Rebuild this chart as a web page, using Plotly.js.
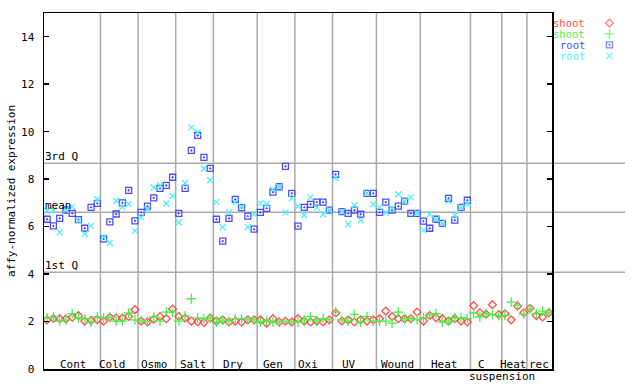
<!DOCTYPE html>
<html>
<head>
<meta charset="utf-8">
<script src="https://cdn.plot.ly/plotly-3.0.1.min.js"></script>
<style>html,body{margin:0;padding:0;background:#fff;}#chart{width:640px;height:384px;}</style>
</head>
<body>
<div id="chart"></div>
<script>
// ---- data ----
const shootRed = [2.07,2.13,2.12,2.11,2.18,2.25,2.02,2.05,2.08,
  2.01,2.18,2.15,2.15,2.21,2.50,
  2.02,1.98,2.10,2.21,2.12,2.53,
  2.21,2.15,2.02,1.99,1.96,2.15,
  2.02,2.07,1.98,2.02,1.98,2.07,2.07,
  2.07,1.93,2.12,1.98,2.02,1.98,
  2.12,2.02,1.98,2.02,1.98,2.07,
  2.36,2.02,2.07,1.98,2.07,2.02,2.07,
  2.12,2.44,2.21,2.12,2.12,2.12,2.40,
  2.02,2.25,2.16,2.12,2.02,2.12,2.02,1.98,
  2.67,2.37,2.31,2.71,2.30,
  2.33,2.07,2.65,2.37,
  2.56,2.25,2.19,2.37];
const shootGreen = [2.15,2.17,2.02,2.07,2.33,2.15,2.11,1.98,2.21,
  2.15,2.18,2.02,2.02,2.36,2.07,
  2.03,2.00,2.19,2.02,2.40,2.40,
  2.02,2.24,2.96,2.15,2.11,2.15,
  1.98,2.06,2.02,2.12,2.12,2.07,2.07,
  1.98,2.02,1.98,1.98,2.02,1.98,
  1.98,2.07,2.21,2.02,2.12,2.07,
  2.40,2.07,2.02,2.30,1.98,2.21,2.02,
  2.02,2.02,1.93,2.40,2.12,2.12,2.07,
  2.16,2.27,2.33,1.98,2.02,2.16,2.16,2.12,
  2.36,2.19,2.33,2.29,2.25,
  2.25,2.82,2.68,2.31,
  2.53,2.33,2.44,2.37];
const rootBlue = [6.31,6.03,6.35,6.70,6.56,6.29,5.93,6.81,6.98,
  5.48,6.20,6.53,7.00,7.53,6.24,
  6.60,6.86,7.21,7.61,7.74,8.08,
  6.56,7.61,9.21,9.84,8.92,8.45,
  6.31,5.39,6.35,7.15,6.80,6.44,5.89,
  6.60,6.77,7.45,7.68,8.54,7.40,
  6.02,6.81,6.94,7.03,7.03,6.69,
  8.20,6.63,6.56,6.69,6.52,7.40,7.40,
  6.60,7.03,6.69,6.86,7.07,6.56,6.56,
  6.23,5.93,6.31,6.14,7.19,6.27,6.81,7.11];
const rootCyan = [6.67,6.70,5.76,6.70,6.84,6.24,5.69,6.03,7.15,
  5.55,5.31,7.09,6.83,6.95,5.82,
  6.39,6.74,7.65,7.75,6.97,7.29,
  6.18,7.84,10.18,9.97,8.45,7.95,
  7.03,5.97,6.60,7.03,6.84,5.97,6.52,
  6.98,6.94,7.57,7.68,6.60,7.19,
  6.86,6.48,7.23,6.81,6.52,6.69,
  8.05,6.63,6.10,6.90,6.27,7.40,6.94,
  6.81,6.60,6.76,7.36,7.07,7.23,6.56,
  5.85,6.52,6.31,6.14,7.07,6.48,6.81,6.94];

const groupNames = ["Cont","Cold","Osmo","Salt","Dry","Gen","Oxi","UV","Wound","Heat","C","Heat","rec"];
const groupSizes = [9,6,6,6,7,6,6,7,7,8,5,4,4];
const groupLabelPos = [4.24,10.5,17.04,23.26,29.7,36.0,41.6,48.1,55.86,63.4,69.3,74.3,78.4];
const subLabel = "suspension";
const subLabelPos = 72.47;

const quartileNames = ["3rd Q","mean","1st Q"];
const quartileValues = [8.67,6.60,4.075];

const seriesNames = ["shoot","shoot","root","root"];
const seriesColors = ["#ff4c4c","#4cf04c","#4c4cff","#4cf0ff"];
const seriesSymbols = ["diamond-open","cross-thin-open","square-open-dot","x-thin-open"];
const seriesSizes = [6,7,6,6];
const seriesData = [shootRed, shootGreen, rootBlue, rootCyan];

const yTicks = [0,2,4,6,8,10,12,14];

// ---- build ----
const FONT = "DejaVu Sans Mono";
const nSamples = groupSizes.reduce((a,b)=>a+b,0);
const traces = seriesData.map((vals,k)=>({
  type:"scatter", mode:"markers",
  x: vals.map((_,i)=>i), y: vals,
  xaxis:"x", yaxis:"y",
  marker:{symbol:seriesSymbols[k], size:seriesSizes[k], color:seriesColors[k],
          line:{width:1.3, color:seriesColors[k]}},
  showlegend:false, hoverinfo:"skip"
}));
// legend keys
traces.push({
  type:"scatter", mode:"markers", xaxis:"x2", yaxis:"y2",
  x: seriesNames.map(()=>0), y: seriesNames.map((_,i)=>i),
  marker:{symbol:seriesSymbols, size:seriesSizes, color:seriesColors,
          line:{width:1.3, color:seriesColors}},
  cliponaxis:false, showlegend:false, hoverinfo:"skip"
});

const plotW = 640-44-10, mainW = 508;
const dom = mainW/plotW;
const shapes = [];
let acc = 0;
for (let g=0; g<groupSizes.length-1; g++){
  acc += groupSizes[g];
  shapes.push({type:"line", xref:"x", yref:"paper", x0:acc-0.5, x1:acc-0.5, y0:0, y1:1,
    line:{color:"#aaaaaa", width:1.5}, layer:"below"});
}
quartileValues.forEach(v=>{
  shapes.push({type:"line", xref:"paper", yref:"y", x0:0, x1:(625-44)/plotW, y0:v, y1:v,
    line:{color:"#aaaaaa", width:1.5}, layer:"below"});
});

const annotations = [];
groupNames.forEach((n,i)=>annotations.push({text:n, xref:"x", yref:"paper", x:groupLabelPos[i], y:0.0132,
  xanchor:"center", yanchor:"middle", showarrow:false, font:{family:FONT,size:11,color:"#000"}}));
annotations.push({text:subLabel, xref:"x", yref:"paper", x:subLabelPos, y:-0.0216,
  xanchor:"center", yanchor:"middle", showarrow:false, font:{family:FONT,size:11,color:"#000"}});
quartileNames.forEach((n,i)=>annotations.push({text:n, xref:"x", yref:"y", x:-0.5, y:quartileValues[i],
  xanchor:"left", yanchor:"bottom", showarrow:false, xshift:-1, yshift:-2, font:{family:FONT,size:11,color:"#000"}}));
const legY = [0.972,0.941,0.911,0.880];
seriesNames.forEach((n,i)=>annotations.push({text:n, xref:"paper", yref:"paper", x:(586-44)/plotW, y:legY[i],
  xanchor:"right", yanchor:"middle", showarrow:false, borderpad:0, height:10, valign:"middle",
  font:{family:FONT,size:10.5,color:seriesColors[i]}}));

const layout = {
  width:640, height:384,
  margin:{l:44, r:10, t:13, b:15, pad:0},
  paper_bgcolor:"#fff", plot_bgcolor:"#fff",
  font:{family:FONT, size:11, color:"#000"},
  showlegend:false,
  xaxis:{domain:[0,dom], range:[-0.5, nSamples-0.5], showgrid:false, zeroline:false,
    showticklabels:false, ticks:"", showline:true, linecolor:"#000", linewidth:1.5, mirror:true, fixedrange:true},
  yaxis:{range:[0,15], tickvals:yTicks, ticktext:yTicks.map(String), ticks:"inside", ticklen:5,
    tickcolor:"#000", tickwidth:1.5, showgrid:false, zeroline:false, showline:true, linecolor:"#000", linewidth:1.5,
    mirror:"ticks", ticklabelstandoff:6, tickfont:{family:FONT,size:11,color:"#000"},
    title:{text:"affy-normalized expression", font:{family:FONT,size:11,color:"#000"}, standoff:3}, fixedrange:true},
  xaxis2:{domain:[0.955,0.975], range:[-1,1], anchor:"y2", visible:false, fixedrange:true},
  yaxis2:{domain:[0.880,0.972], range:[3,0], anchor:"x2", visible:false, fixedrange:true},
  shapes:shapes, annotations:annotations
};
Plotly.newPlot("chart", traces, layout, {staticPlot:true, displayModeBar:false});
</script>
</body>
</html>
